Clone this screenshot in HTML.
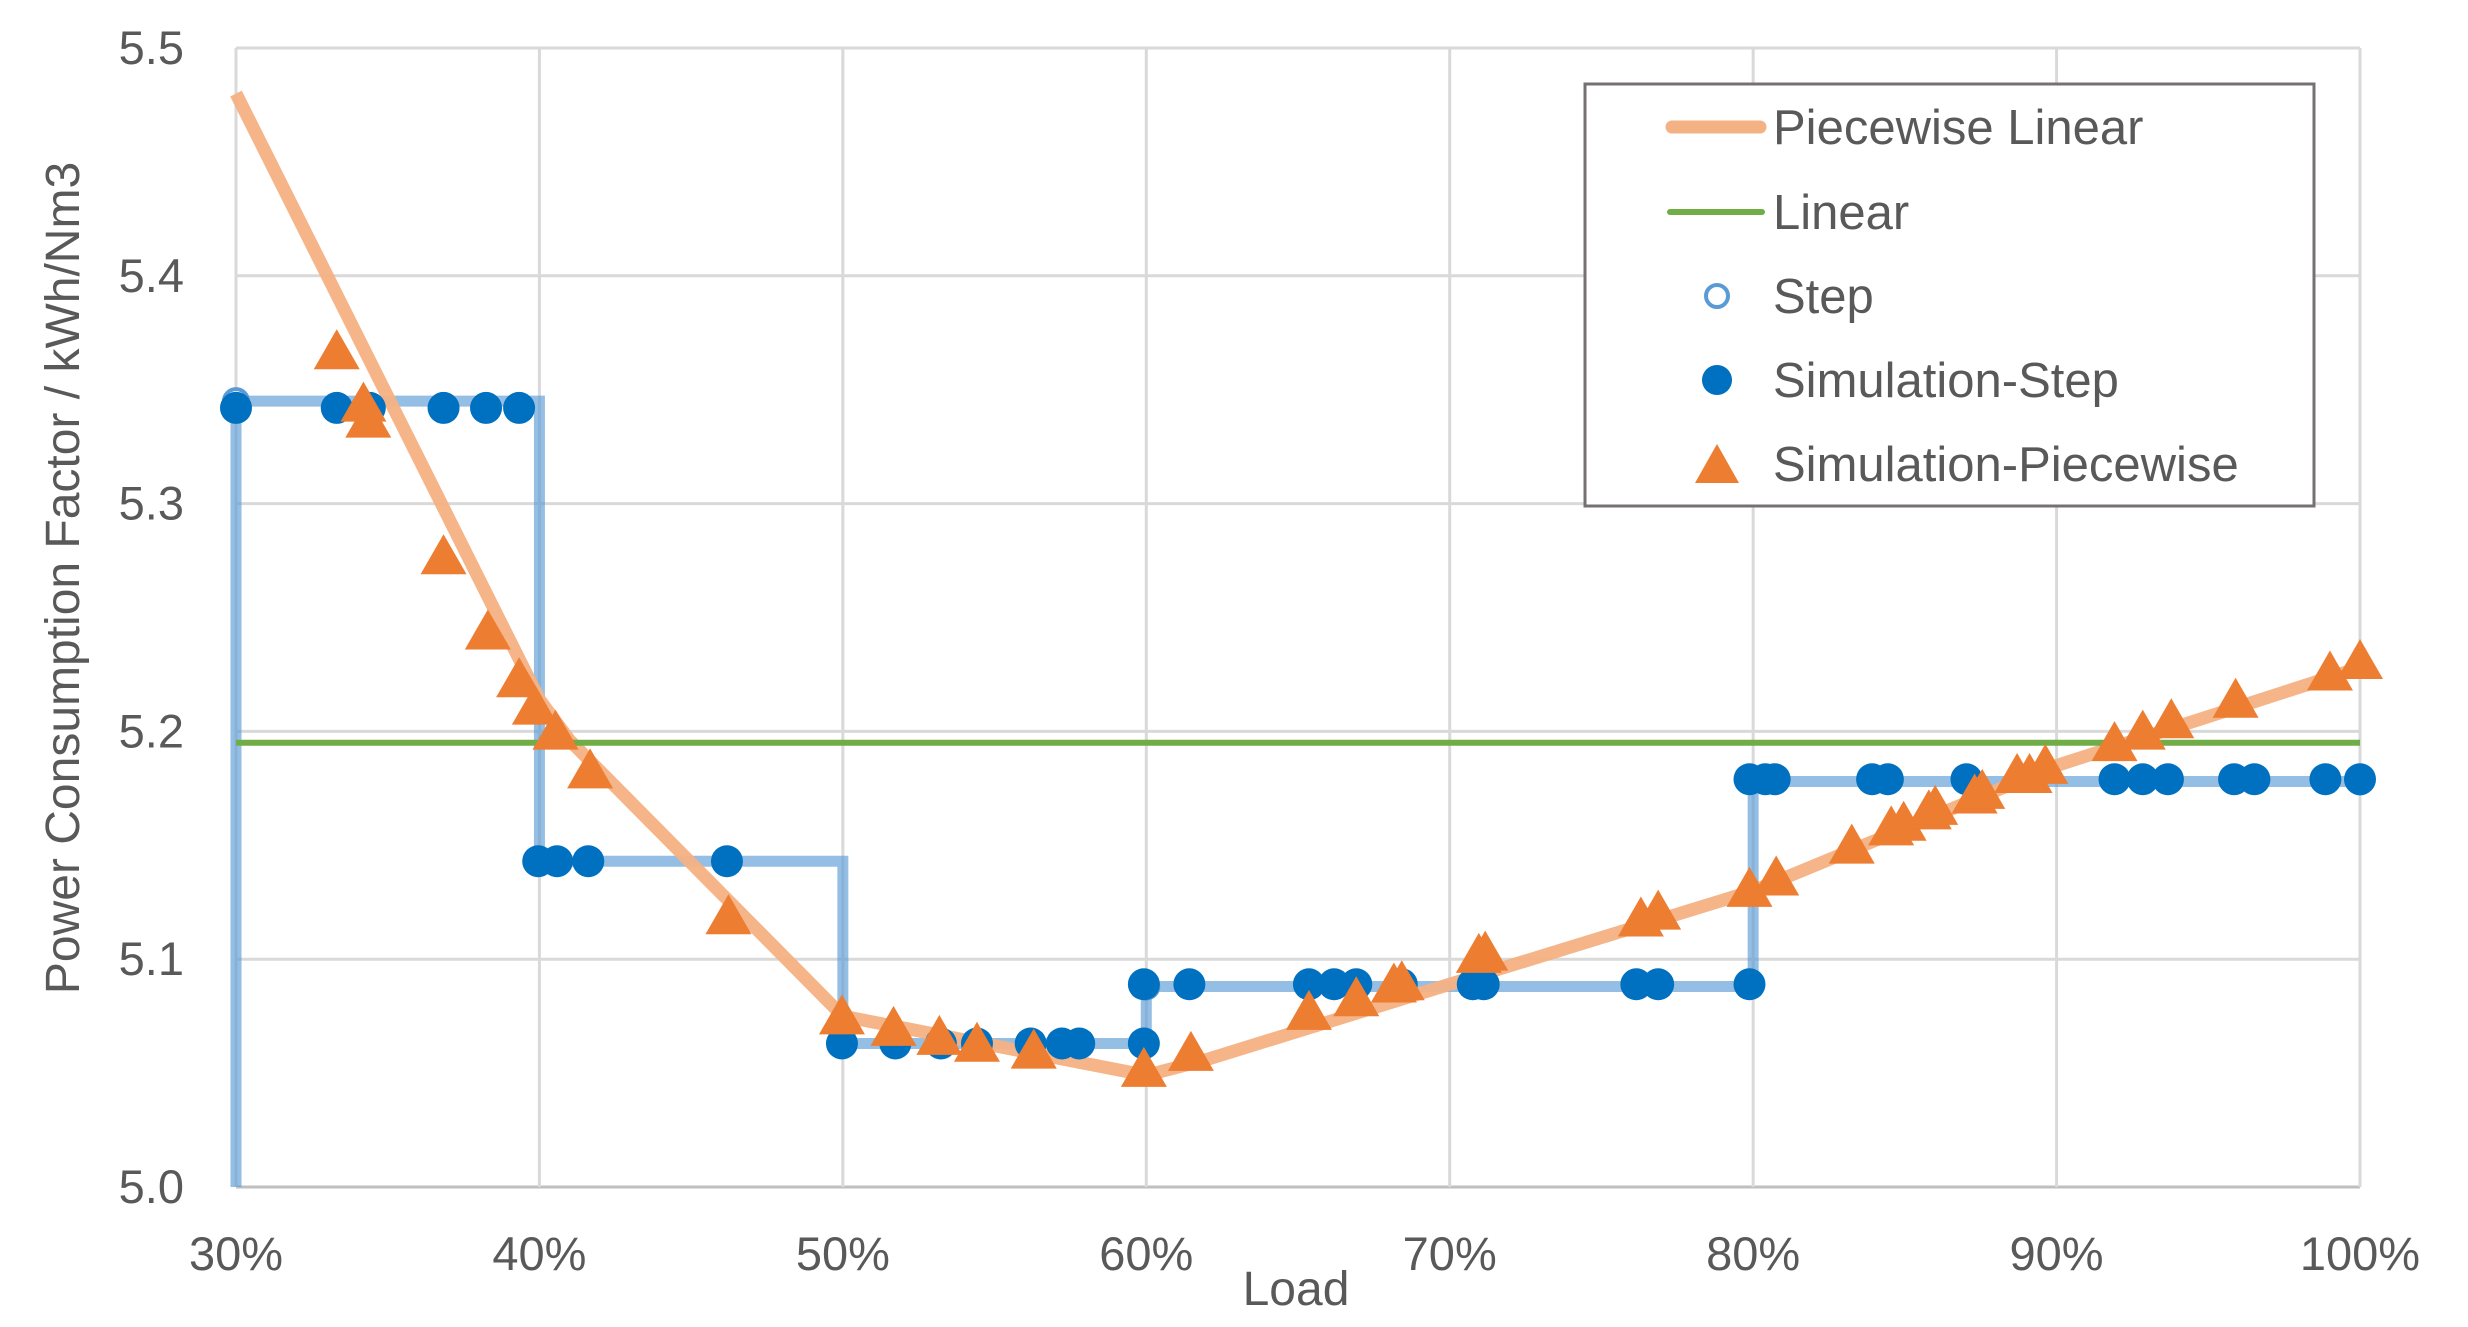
<!DOCTYPE html>
<html><head><meta charset="utf-8"><style>
html,body{margin:0;padding:0;background:#fff;}
svg{display:block;font-family:"Liberation Sans",sans-serif;}
</style></head><body>
<svg id="chart" width="2468" height="1327" viewBox="0 0 2468 1327" xmlns="http://www.w3.org/2000/svg">
<g id="grid"></g>
<g id="series"></g>
<g id="axes"></g>
<text x="0" y="0" transform="translate(79,578) rotate(-90)" text-anchor="middle" font-size="48" fill="#595959">Power Consumption Factor / kWh/Nm3</text>
<text x="1296" y="1305" text-anchor="middle" font-size="48" fill="#595959">Load</text>
<g>
<rect x="1585" y="84" width="729" height="422" fill="#fff" stroke="#767171" stroke-width="3"/>
<line x1="1672" y1="127" x2="1760" y2="127" stroke="#F4B183" stroke-width="13" stroke-linecap="round"/>
<text x="1773" y="144" font-size="49" fill="#595959">Piecewise Linear</text>
<line x1="1670" y1="212" x2="1762" y2="212" stroke="#70AD47" stroke-width="6" stroke-linecap="round"/>
<text x="1773" y="229" font-size="49" fill="#595959">Linear</text>
<circle cx="1717" cy="296" r="11" fill="#fff" stroke="#5B9BD5" stroke-width="4"/>
<text x="1773" y="313" font-size="49" fill="#595959">Step</text>
<circle cx="1717" cy="380" r="15" fill="#0070C0"/>
<text x="1773" y="397" font-size="49" fill="#595959">Simulation-Step</text>
<polygon points="1717,444 1739,483 1695,483" fill="#ED7D31"/>
<text x="1773" y="481" font-size="49" fill="#595959">Simulation-Piecewise</text>
</g>
</svg>
<script>
const xTicks = [30,40,50,60,70,80,90,100];
const yTicks = [5.0,5.1,5.2,5.3,5.4,5.5];
const pwX = [30,40,41,50,60,62,70,80,90,100];
const pwY = [5.48,5.214,5.196,5.075,5.049,5.056,5.089,5.13,5.185,5.228];
const linearX = [30,100];
const linearY = [5.195,5.195];
const stepX = [30,30,40,40,50,50,60,60,80,80,100];
const stepY = [5.0,5.345,5.345,5.143,5.143,5.063,5.063,5.088,5.088,5.178,5.178];
const stepMarkX = [30,60,100];
const stepMarkY = [5.345,5.088,5.178];
const simStepX = [30,33.32,34.41,36.84,38.24,39.33,39.96,40.58,41.61,46.18,49.97,51.73,53.23,54.42,56.19,57.22,57.79,59.92,59.92,61.42,65.36,66.19,66.92,68.42,70.76,71.12,76.15,76.87,79.88,79.88,80.40,80.71,83.92,84.44,87.03,91.91,92.84,93.67,95.85,96.52,98.86,100];
const simStepY = [5.342,5.342,5.342,5.342,5.342,5.342,5.143,5.143,5.143,5.143,5.063,5.063,5.063,5.063,5.063,5.063,5.063,5.063,5.089,5.089,5.089,5.089,5.089,5.089,5.089,5.089,5.089,5.089,5.089,5.179,5.179,5.179,5.179,5.179,5.179,5.179,5.179,5.179,5.179,5.179,5.179,5.179];
const simPwX = [33.32,34.20,34.36,36.84,38.30,39.33,39.85,40.53,41.67,46.23,49.97,51.67,53.18,54.42,56.29,59.92,61.47,65.36,66.92,68.16,68.42,70.96,71.17,76.30,76.87,79.88,80.76,83.25,84.55,84.96,85.79,86.00,87.30,87.55,88.70,89.11,89.63,91.91,92.84,93.78,95.90,99.01,100];
const simPwY = [5.366,5.343,5.336,5.276,5.243,5.222,5.210,5.199,5.182,5.118,5.074,5.069,5.065,5.062,5.059,5.051,5.058,5.076,5.082,5.088,5.089,5.101,5.102,5.117,5.120,5.130,5.135,5.149,5.157,5.159,5.164,5.166,5.171,5.173,5.180,5.180,5.184,5.194,5.199,5.204,5.213,5.225,5.230];

const X0=236, X1=2360, Y0=1187, Y1=48;
function sx(v){return X0+(v-30)/70*(X1-X0);}
function sy(v){return Y0-(v-5.0)/0.5*(Y0-Y1);}
const NS='http://www.w3.org/2000/svg';
function mk(tag,parent,attrs){const e=document.createElementNS(NS,tag);for(const k in attrs)e.setAttribute(k,attrs[k]);parent.appendChild(e);return e;}
const grid=document.getElementById('grid'), series=document.getElementById('series'), axes=document.getElementById('axes');

yTicks.forEach(t=>{
  const l=mk('line',grid,{x1:X0,x2:X1,y1:sy(t),y2:sy(t),stroke:t===5.0?'#BFBFBF':'#D9D9D9','stroke-width':3});
  
  
  const tx=mk('text',axes,{x:184,y:sy(t)+16,'text-anchor':'end','font-size':47,fill:'#595959'});
  tx.textContent=t.toFixed(1);
  
  
});
xTicks.forEach(t=>{
  const l=mk('line',grid,{x1:sx(t),x2:sx(t),y1:Y1,y2:Y0,stroke:'#D9D9D9','stroke-width':3});
  
  
  const tx=mk('text',axes,{x:sx(t),y:1270,'text-anchor':'middle','font-size':47,fill:'#595959'});
  tx.textContent=t+'%';
  
  
});
function pts(xs,ys){return xs.map((x,i)=>sx(x)+','+sy(ys[i])).join(' ');}
const stepLine=mk('polyline',series,{points:pts(stepX,stepY),fill:'none',stroke:'#5B9BD5','stroke-opacity':0.65,'stroke-width':11});


stepMarkX.forEach((x,i)=>{
  const c=mk('circle',series,{cx:sx(x),cy:sy(stepMarkY[i]),r:12,fill:'#fff',stroke:'#5B9BD5','stroke-width':4});
  
  
});
const pwLine=mk('polyline',series,{points:pts(pwX,pwY),fill:'none',stroke:'#F4B183','stroke-width':13,'stroke-linejoin':'round','stroke-opacity':0.95});


const linLine=mk('polyline',series,{points:pts(linearX,linearY),fill:'none',stroke:'#70AD47','stroke-width':6});


simStepX.forEach((x,i)=>{
  const c=mk('circle',series,{cx:sx(x),cy:sy(simStepY[i]),r:16,fill:'#0070C0'});
  
  
});
simPwX.forEach((x,i)=>{
  const cx=sx(x), cy=sy(simPwY[i]);
  const p=mk('polygon',series,{points:`${cx},${cy-24} ${cx+23},${cy+16} ${cx-23},${cy+16}`,fill:'#ED7D31'});
  
  
});
</script>
</body></html>
